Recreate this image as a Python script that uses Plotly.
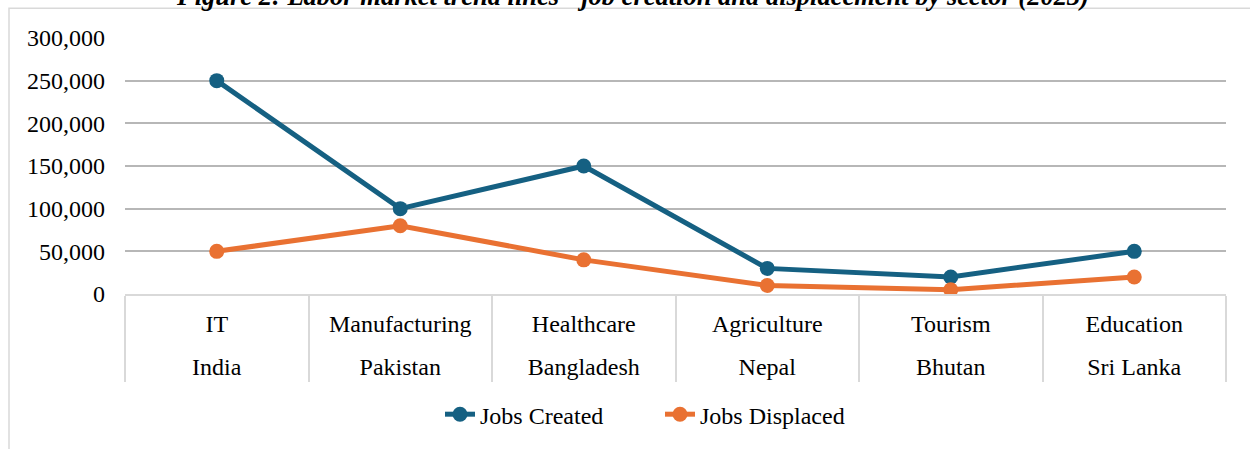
import plotly.graph_objects as go

sectors = ["IT", "Manufacturing", "Healthcare", "Agriculture", "Tourism", "Education"]
countries = ["India", "Pakistan", "Bangladesh", "Nepal", "Bhutan", "Sri Lanka"]
jobs_created = [250000, 100000, 150000, 30000, 20000, 50000]
jobs_displaced = [50000, 80000, 40000, 10000, 5000, 20000]
y_ticks = [0, 50000, 100000, 150000, 200000, 250000, 300000]

FONT = "Liberation Serif"
FS = 24
BLUE = "#156082"
ORANGE = "#E97132"

fig = go.Figure()
fig.add_trace(go.Scatter(
    x=sectors, y=jobs_created, name="Jobs Created", mode="lines+markers",
    line=dict(color=BLUE, width=5), marker=dict(color=BLUE, size=15),
    xaxis="x", yaxis="y"))
fig.add_trace(go.Scatter(
    x=sectors, y=jobs_displaced, name="Jobs Displaced", mode="lines+markers",
    line=dict(color=ORANGE, width=5), marker=dict(color=ORANGE, size=15),
    xaxis="x2", yaxis="y"))

W, H = 1250, 449
L, R, T, B = 125, 24, 38, 152
pw, ph = W - L - R, H - T - B

def px(xp):
    return (xp - L) / pw

def py(yp):
    return (H - B - yp) / ph

fig.update_layout(
    width=W, height=H,
    margin=dict(l=L, r=R, t=T, b=B),
    paper_bgcolor="white", plot_bgcolor="white",
    font=dict(family=FONT, size=FS, color="black"),
    showlegend=True,
    legend=dict(orientation="h", x=px(660), xanchor="center", y=py(419), yanchor="middle",
                entrywidth=175, font=dict(family=FONT, size=FS), bgcolor="rgba(0,0,0,0)"),
    xaxis=dict(type="category", categoryorder="array", categoryarray=sectors,
               range=[-0.5, 5.5], showline=True, linecolor="#d9d9d9", linewidth=1.5,
               ticks="outside", tickson="boundaries", ticklen=86, tickcolor="#d9d9d9",
               tickwidth=1.5, showgrid=False, ticklabelstandoff=7,
               tickfont=dict(family=FONT, size=FS)),
    xaxis2=dict(type="category", categoryorder="array", categoryarray=sectors,
                range=[-0.5, 5.5], overlaying="x", anchor="y", side="bottom", matches="x",
                tickmode="array", tickvals=sectors, ticktext=countries,
                showline=False, ticks="", showgrid=False, ticklabelstandoff=56,
                tickfont=dict(family=FONT, size=FS)),
    yaxis=dict(range=[0, 300000], tickvals=y_ticks, tickformat=",", showgrid=True,
               gridcolor="#b7b7b7", gridwidth=1.5, zeroline=False, showline=False,
               ticks="", ticklabelstandoff=19, tickfont=dict(family=FONT, size=FS)),
    shapes=[dict(type="rect", xref="paper", yref="paper", x0=px(9), x1=px(1300),
                 y0=py(480), y1=py(8), line=dict(color="#d9d9d9", width=1.5),
                 fillcolor="rgba(0,0,0,0)", layer="below")],
    annotations=[dict(text="<b><i>Figure 2: Labor market trend lines - job creation and displacement by sector (2023)</i></b>",
                      xref="paper", yref="paper", x=px(632), y=py(-4), xanchor="center",
                      yanchor="middle", showarrow=False,
                      font=dict(family=FONT, size=26.5, color="black"))],
)

fig.write_html("out.html")
